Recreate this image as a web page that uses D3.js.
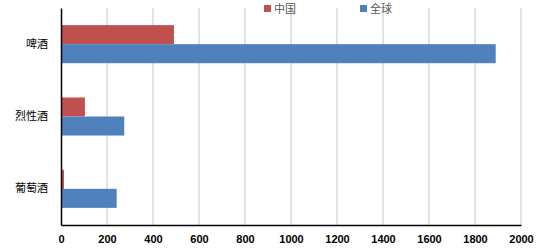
<!DOCTYPE html>
<html>
<head>
<meta charset="utf-8">
<script src="https://cdn.jsdelivr.net/npm/d3@7"></script>
<style>
  body { margin: 0; background: #fff; }
</style>
</head>
<body>
<div id="container"></div>
<script>
// chart data
var categories = ["啤酒", "烈性酒", "葡萄酒"];
var seriesNames = ["中国", "全球"];
var china = [491, 104, 13];
var world = [1890, 275, 242];
var xTicks = [0, 200, 400, 600, 800, 1000, 1200, 1400, 1600, 1800, 2000];
var colors = ["#C0504D", "#4F81BD"];

// set the dimensions and margins of the graph
var margin = {top: 8, right: 17, bottom: 23, left: 61},
    width = 538 - margin.left - margin.right,
    height = 248 - margin.top - margin.bottom;

var svg = d3.select("#container")
  .append("svg")
    .attr("width", 538)
    .attr("height", 248)
  .append("g")
    .attr("transform", "translate(" + margin.left + "," + margin.top + ")");

var x = d3.scaleLinear()
  .domain([0, 2000])
  .range([0, width]);

var y = d3.scaleBand()
  .domain(categories)
  .range([0, height]);

// group of two bars, Excel gap width 90%
var groupH = y.bandwidth() / 1.9;
var y1 = d3.scaleBand()
  .domain(seriesNames)
  .range([0, groupH]);

// gridlines
svg.append("g")
  .selectAll("line")
  .data(xTicks.slice(1))
  .enter()
  .append("line")
    .attr("x1", function(d) { return x(d); })
    .attr("x2", function(d) { return x(d); })
    .attr("y1", 0)
    .attr("y2", height)
    .attr("stroke", "#D9D9D9")
    .attr("stroke-width", 1.5);

// bars
var rows = categories.map(function(c, i) {
  return {cat: c, values: [china[i], world[i]]};
});

var groups = svg.selectAll(".grp")
  .data(rows)
  .enter()
  .append("g")
    .attr("transform", function(d) {
      return "translate(0," + (y(d.cat) + (y.bandwidth() - groupH) / 2) + ")";
    });

groups.selectAll("rect")
  .data(function(d) { return d.values.map(function(v, j) { return {name: seriesNames[j], value: v, idx: j}; }); })
  .enter()
  .append("rect")
    .attr("x", x(0))
    .attr("y", function(d) { return y1(d.name); })
    .attr("width", function(d) { return x(d.value) - x(0); })
    .attr("height", y1.bandwidth())
    .attr("fill", function(d) { return colors[d.idx]; });

// X axis
var xAxis = svg.append("g")
  .attr("transform", "translate(0," + height + ")")
  .call(d3.axisBottom(x).tickValues(xTicks).tickSize(0).tickPadding(10).tickFormat(d3.format("d")));
xAxis.select(".domain").attr("stroke", "#000").attr("stroke-width", 1.5);
xAxis.selectAll("text")
  .style("font-family", "Liberation Sans, Arial, sans-serif")
  .style("font-size", "11px")
  .style("font-weight", "bold")
  .attr("fill", "#000");

// Y axis
var yAxis = svg.append("g")
  .call(d3.axisLeft(y).tickSize(0).tickPadding(13));
yAxis.select(".domain").attr("stroke", "#000").attr("stroke-width", 1.5);
yAxis.selectAll("text")
  .style("font-family", "Noto Sans CJK SC, sans-serif")
  .style("font-size", "11px")
  .attr("fill", "#000");

// legend
var legendX = [264 - margin.left, 360 - margin.left];
var legend = svg.selectAll(".legend")
  .data(seriesNames)
  .enter()
  .append("g")
    .attr("transform", function(d, i) { return "translate(" + legendX[i] + "," + (-margin.top) + ")"; });

legend.append("rect")
  .attr("x", 0)
  .attr("y", 5)
  .attr("width", 7)
  .attr("height", 7)
  .attr("fill", function(d, i) { return colors[i]; });

legend.append("text")
  .attr("x", 10)
  .attr("y", 9)
  .attr("dy", "0.35em")
  .text(function(d) { return d; })
  .style("font-family", "Noto Sans CJK SC, sans-serif")
  .style("font-size", "11px")
  .attr("fill", "#595959");
</script>
</body>
</html>
